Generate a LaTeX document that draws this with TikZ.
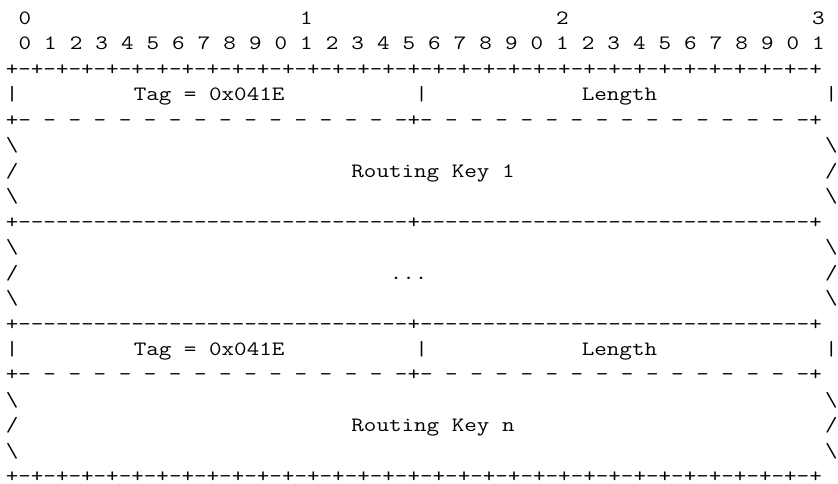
\documentclass[tikz,border=0pt]{standalone}
\usepackage{fontspec}
\usepackage{graphicx}

% repeat a piece of text n times
\newcommand{\rep}[2]{\foreach \k in {1,...,#1}{#2}}
% widen the typewriter cells to the column pitch
\newcommand{\wide}[1]{\scalebox{1.195}[1]{#1}}

\begin{document}
\begin{tikzpicture}[
        x=9.6pt,
        y=-19.1pt,
        asc/.style={
            anchor=base west,
            inner sep=0pt,
            outer sep=0pt,
            font=\ttfamily\fontsize{15.3pt}{19pt}\selectfont
        }
    ]
    \useasboundingbox (-4.35pt,18.3pt) rectangle (624.15pt,-343.95pt);

    % Bit numbering
    \foreach \t/\c in {0/1, 1/23, 2/43, 3/63}
        \node[asc] (tens\t) at (\c,0) {\wide{\t}};
    \foreach \i in {0,...,31} {
        \pgfmathtruncatemacro{\digit}{mod(\i,10)}
        \node[asc] (bit\i) at (2*\i+1,1) {\wide{\digit}};
    }

    % Top and bottom borders
    \node[asc] (top)    at (0,2)  {\wide{+\rep{32}{-+}}};
    \node[asc] (bottom) at (0,18) {\wide{+\rep{32}{-+}}};

    % Tag / Length rows
    \foreach \r/\n in {3/1, 13/2} {
        \node[asc] (barl\n) at (0,\r)  {\wide{|}};
        \node[asc] (tag\n)  at (10,\r) {\wide{Tag = 0x041E}};
        \node[asc] (barm\n) at (32,\r) {\wide{|}};
        \node[asc] (len\n)  at (45,\r) {\wide{Length}};
        \node[asc] (barr\n) at (64,\r) {\wide{|}};
    }

    % Dashed separators
    \node[asc] (dash1) at (0,4)  {\wide{+\rep{15}{-\ }-+\rep{15}{-\ }-+}};
    \node[asc] (dash2) at (0,14) {\wide{+\rep{15}{-\ }-+\rep{15}{-\ }-+}};

    % Full separators
    \node[asc] (rule1) at (0,8)  {\wide{+\rep{31}{-}+\rep{31}{-}+}};
    \node[asc] (rule2) at (0,12) {\wide{+\rep{31}{-}+\rep{31}{-}+}};

    % Variable length sides
    \foreach \r/\s in {5/\textbackslash, 6/{/}, 7/\textbackslash,
                       9/\textbackslash, 10/{/}, 11/\textbackslash,
                       15/\textbackslash, 16/{/}, 17/\textbackslash} {
        \node[asc] (sidel\r) at (0,\r)  {\wide{\s}};
        \node[asc] (sider\r) at (64,\r) {\wide{\s}};
    }

    % Field contents
    \node[asc] (key1) at (27,6)  {\wide{Routing Key 1}};
    \node[asc] (dots) at (30,10) {\wide{...}};
    \node[asc] (keyn) at (27,16) {\wide{Routing Key n}};

\end{tikzpicture}
\end{document}
